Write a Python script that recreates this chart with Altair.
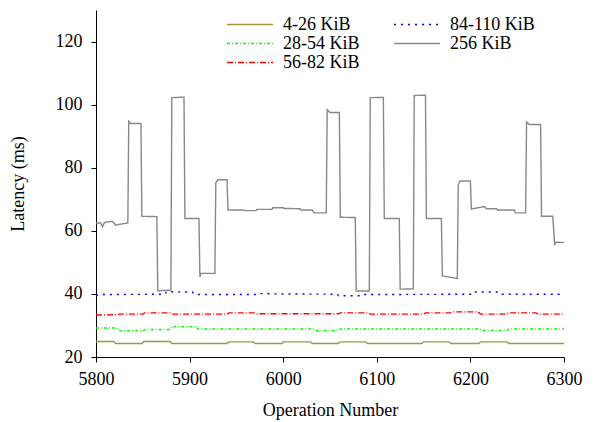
import altair as alt
import pandas as pd

# ---- data ----
x_4_26 = [5800, 5819, 5821, 5849, 5851, 5879, 5881, 5940, 5942, 5968, 5970, 5999, 6000, 6029,
          6031, 6059, 6061, 6088, 6090, 6148, 6150, 6177, 6179, 6209, 6211, 6239, 6241, 6300]
y_4_26 = [24.9, 24.9, 24.3, 24.3, 24.9, 24.9, 24.3, 24.3, 24.8, 24.8, 24.3, 24.3, 24.8, 24.8,
          24.3, 24.3, 24.8, 24.8, 24.3, 24.3, 24.8, 24.8, 24.3, 24.3, 24.8, 24.8, 24.3, 24.3]

x_28_54 = [5800, 5822, 5826, 5851, 5853, 5879, 5881, 5907, 5909, 6032, 6034, 6059, 6061, 6210,
           6213, 6239, 6241, 6300]
y_28_54 = [29.2, 29.2, 28.3, 28.4, 28.7, 28.7, 29.6, 29.6, 28.9, 28.9, 28.4, 28.4, 28.9, 28.9,
           28.4, 28.4, 28.9, 28.9]

x_56_82 = [5800, 5823, 5825, 5850, 5852, 5879, 5881, 5940, 5942, 5970, 5972, 6059, 6061, 6091,
           6093, 6150, 6152, 6180, 6182, 6208, 6211, 6239, 6241, 6270, 6272, 6300]
y_56_82 = [33.3, 33.4, 33.6, 33.6, 34.0, 34.0, 33.6, 33.6, 34.0, 34.0, 33.7, 33.7, 34.0, 34.0,
           33.6, 33.6, 34.0, 34.0, 34.3, 34.3, 33.6, 33.6, 34.0, 34.0, 33.6, 33.6]

x_84_110 = [5800, 5806, 5874, 5875, 5903, 5905, 5975, 5976, 5990, 6058, 6059, 6084, 6086, 6204,
            6205, 6232, 6234, 6300]
y_84_110 = [39.5, 39.8, 39.9, 40.7, 40.6, 39.8, 39.8, 40.1, 40.0, 39.9, 39.4, 39.4, 39.8, 39.9,
            40.6, 40.6, 39.9, 39.9]

x_256 = [5800, 5805, 5807, 5809, 5815, 5818, 5821, 5830, 5834, 5835, 5837, 5848, 5849, 5865,
         5866, 5880, 5881, 5894, 5895, 5910, 5911, 5912, 5927, 5928, 5930, 5940, 5941, 5958,
         5959, 5971, 5972, 5988, 5989, 6000, 6001, 6018, 6019, 6031, 6033, 6046, 6047, 6050,
         6060, 6061, 6077, 6078, 6092, 6093, 6107, 6108, 6124, 6125, 6139, 6140, 6152, 6153,
         6169, 6170, 6186, 6187, 6189, 6200, 6201, 6208, 6215, 6217, 6228, 6229, 6247, 6248,
         6259, 6260, 6263, 6275, 6276, 6288, 6290, 6292, 6300]
y_256 = [62.5, 62.5, 61.3, 62.6, 63.0, 62.9, 61.8, 62.3, 62.5, 94.7, 94.0, 94.0, 64.6, 64.5,
         41.0, 41.2, 102.2, 102.4, 63.9, 63.9, 45.4, 46.5, 46.5, 75.2, 76.2, 76.2, 66.6, 66.6,
         66.4, 66.4, 66.8, 66.8, 67.3, 67.3, 67.1, 67.0, 66.6, 66.6, 65.7, 65.7, 98.4, 97.5,
         97.5, 64.3, 64.2, 40.9, 40.9, 102.2, 102.3, 63.9, 63.9, 41.5, 41.6, 102.9, 103.0, 63.9,
         63.9, 45.7, 44.9, 74.7, 75.8, 75.8, 66.9, 67.3, 67.7, 67.0, 67.0, 66.6, 66.6, 65.7,
         65.7, 94.5, 93.7, 93.7, 64.6, 64.6, 55.7, 56.4, 56.3]

series_names = ["4-26 KiB", "28-54 KiB", "56-82 KiB", "84-110 KiB", "256 KiB"]
series_x = [x_4_26, x_28_54, x_56_82, x_84_110, x_256]
series_y = [y_4_26, y_28_54, y_56_82, y_84_110, y_256]

x_ticks = [5800, 5900, 6000, 6100, 6200, 6300]
y_ticks = [20, 40, 60, 80, 100, 120]

rows = []
for name, xs, ys in zip(series_names, series_x, series_y):
    for i, (xv, yv) in enumerate(zip(xs, ys)):
        rows.append({"series": name, "op": xv, "lat": yv, "i": i})
df = pd.DataFrame(rows)

color_map = {"4-26 KiB": "#9d9a38", "28-54 KiB": "#00ff00", "56-82 KiB": "#ff0000",
             "84-110 KiB": "#0000ff", "256 KiB": "#888888"}
dash_map = {"4-26 KiB": [1, 0], "28-54 KiB": [3, 2, 1, 2], "56-82 KiB": [6, 2, 1, 2],
            "84-110 KiB": [2, 5], "256 KiB": [1, 0]}

FONT = "Liberation Serif"
FS = 18


def make_legend():
    return alt.Legend(orient="none", legendX=130, legendY=5, columns=2,
                      title=None, symbolType="stroke", symbolSize=2116,
                      symbolStrokeWidth=1.5, labelOffset=9,
                      clipHeight=19, columnPadding=33, rowPadding=0,
                      labelFont=FONT, labelFontSize=FS, labelColor="black",
                      padding=0, labelLimit=0)


chart = alt.Chart(df).mark_line(strokeWidth=1.4, clip=True).encode(
    x=alt.X("op:Q", scale=alt.Scale(domain=[5800, 6300], nice=False, zero=False),
            axis=alt.Axis(title="Operation Number", values=x_ticks, format="d",
                          grid=False, tickSize=5, labelPadding=8, titlePadding=13)),
    y=alt.Y("lat:Q", scale=alt.Scale(domain=[20, 130], nice=False, zero=False),
            axis=alt.Axis(title="Latency (ms)", values=y_ticks, grid=False,
                          tickSize=5, labelPadding=9, titlePadding=28)),
    color=alt.Color("series:N",
                    scale=alt.Scale(domain=series_names,
                                    range=[color_map[s] for s in series_names]),
                    legend=make_legend()),
    strokeDash=alt.StrokeDash("series:N",
                              scale=alt.Scale(domain=series_names,
                                              range=[dash_map[s] for s in series_names]),
                              legend=make_legend()),
    detail="series:N",
    order="i:Q",
).properties(
    width=468, height=347,
    autosize=alt.AutoSizeParams(type="none"),
    padding={"left": 96, "top": 10, "right": 49, "bottom": 65},
    background="white",
).configure_view(
    stroke=None
).configure_axis(
    labelFont=FONT, titleFont=FONT, labelFontSize=FS, titleFontSize=FS,
    labelColor="black", titleColor="black", titleFontWeight="normal",
    domainColor="black", tickColor="black", domainWidth=1, tickWidth=1,
    labelFlush=False,
)

chart.save("out.html", embed_options={"renderer": "svg", "actions": False})
